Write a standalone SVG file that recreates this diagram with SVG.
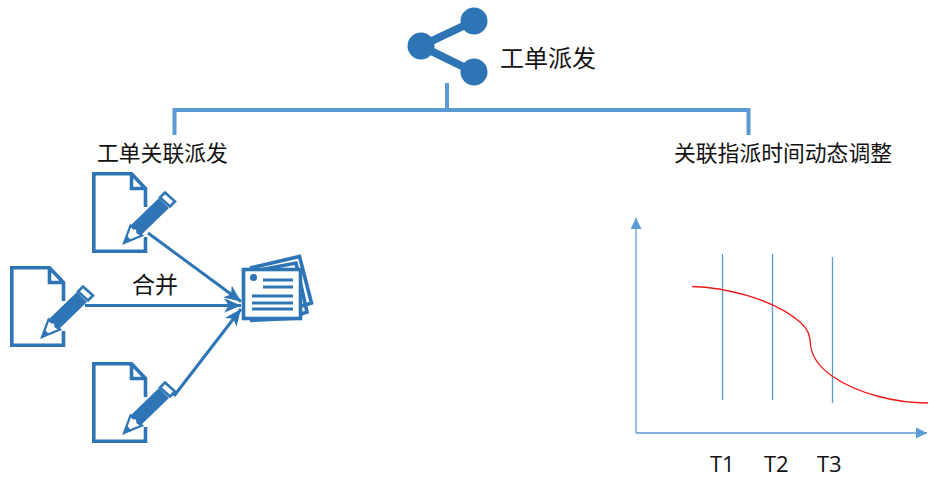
<svg xmlns="http://www.w3.org/2000/svg" width="944" height="485" viewBox="0 0 944 485">
<style>
text{font-family:"Noto Sans CJK SC","Liberation Sans",sans-serif;fill:#111}
.b{fill:#2E75B6}
.ol{fill:none;stroke:#2E75B6;stroke-width:3.6}
.br{fill:none;stroke:#5B9BD5;stroke-width:4}
.ax{fill:none;stroke:#5B9BD5;stroke-width:1.3}
.flow{fill:none;stroke:#2E75B6;stroke-width:3}
.tl{font-family:"Open Sans","Liberation Sans",sans-serif}
</style>
<defs>
<marker id="open" markerUnits="userSpaceOnUse" markerWidth="18" markerHeight="18" refX="15" refY="8" orient="auto" viewBox="0 0 16 16">
<path d="M0 1.500L15 8L0 14.500L4 8Z" fill="#2E75B6"/>
</marker>
<marker id="tri" markerUnits="userSpaceOnUse" markerWidth="11" markerHeight="11" refX="9" refY="4.500" orient="auto" viewBox="0 0 9 9">
<path d="M0 0L9 4.500L0 9Z" fill="#5B9BD5"/>
</marker>
<g id="docpen">
<path class="ol" d="M53.500 35V16.500L39.500 1.800H1.800V79.200H53.500V65M39.500 1.800V16.500H54"/>
<path d="M67 26L77 36L48 64L38 54Z" fill="#2E75B6"/>
<path d="M73 20.500L83 29.500L78 34.500L68 25.500Z" fill="#fff" stroke="#2E75B6" stroke-width="2.600"/>
<path d="M38.500 53.500L32 71L50 63.500L45.500 60.500L45 56.500L41.500 56.500Z" fill="#fff" stroke="#2E75B6" stroke-width="2.200"/>
<path d="M35.500 64L31 72L39 68.500Z" fill="#2E75B6"/>
</g>
</defs>
<rect width="944" height="485" fill="#fff"/>

<g id="connectors">
<path class="br" d="M447 83V110M174.500 135V110H748.500V135"/>
<path class="flow" d="M148 233L241 301.500" marker-end="url(#open)"/>
<path class="flow" d="M85 305.500H241" marker-end="url(#open)"/>
<path class="flow" d="M174 396L241 309" marker-end="url(#open)"/>
</g>

<g id="root">
<path d="M474 21L421 46L474 72" fill="none" stroke="#2E75B6" stroke-width="8"/>
<circle class="b" cx="421" cy="46" r="13.500"/>
<circle class="b" cx="474" cy="21" r="13.500"/>
<circle class="b" cx="474" cy="72" r="13.500"/>
<text x="500" y="67" font-size="24">工单派发</text>
</g>

<g id="branch-left"><text x="97" y="161" font-size="21.800">工单关联派发</text></g>
<g id="branch-right"><text x="674" y="161" font-size="21.800">关联指派时间动态调整</text></g>

<g id="doc-1"><use href="#docpen" x="92" y="172"/></g>
<g id="doc-2"><use href="#docpen" x="10" y="266"/></g>
<g id="doc-3"><use href="#docpen" x="92" y="362"/></g>

<g id="merge-label"><text x="132" y="293" font-size="23">合并</text></g>

<g id="stack">
<path class="ol" d="M250 268L299.500 256.500L311.500 303L302 306"/>
<path class="ol" d="M254 271L296 263L307 312L301 314"/>
<path class="ol" d="M250 320.500L302 318"/>
<rect x="243.500" y="269.500" width="57" height="49" fill="#fff" stroke="#2E75B6" stroke-width="3.600"/>
<circle class="b" cx="253.500" cy="277.500" r="3.500"/>
<path d="M263 280H293M263 287H293M252 296H293M252 303H293M252 309H293" fill="none" stroke="#2E75B6" stroke-width="3.200"/>
</g>

<g id="chart">
<path class="ax" d="M636 433V218" marker-end="url(#tri)"/>
<path class="ax" d="M636 433H927" marker-end="url(#tri)"/>
<path class="ax" d="M722.500 254V400M772.500 254V400M832.500 257V403"/>
<path d="M692 286.500C722 287 772 298 800 322C808 329 810 335 810.500 345C812 358 822 369 832 376C858 394 896 403 928 403" fill="none" stroke="#F01818" stroke-width="1.300"/>
<text class="tl" x="710" y="472" font-size="22">T1</text>
<text class="tl" x="764" y="472" font-size="22">T2</text>
<text class="tl" x="817" y="472" font-size="22">T3</text>
</g>
</svg>
